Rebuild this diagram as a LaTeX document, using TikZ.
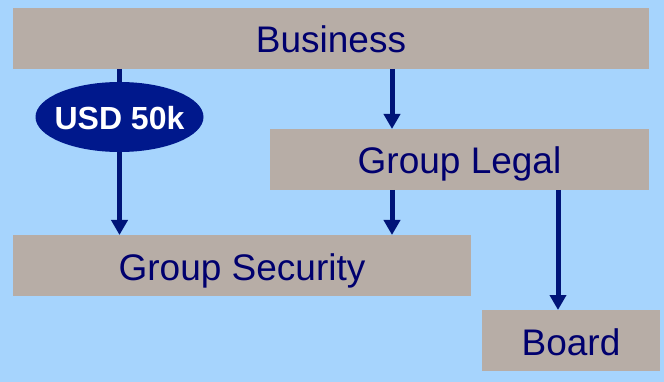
\documentclass[tikz,border=0pt]{standalone}
\usepackage{fontspec}
\setmainfont{Liberation Sans}
\usetikzlibrary{arrows.meta,shapes.geometric}
\definecolor{bgblue}{RGB}{166,212,253}
\definecolor{boxgrey}{RGB}{183,173,166}
\definecolor{txtnavy}{RGB}{0,0,110}
\definecolor{ellnavy}{RGB}{0,24,140}
\definecolor{arrnavy}{RGB}{0,20,120}
\begin{document}
\begin{tikzpicture}[x=1pt,y=-1pt,
  orgbox/.style={fill=boxgrey,draw=none,inner sep=0pt,outer sep=0pt,minimum height=61pt,text height=29pt,text depth=0pt,text=txtnavy,font=\fontsize{37}{42}\selectfont},
  amount/.style={ellipse,fill=ellnavy,draw=none,inner sep=0pt,outer sep=0pt,minimum width=168pt,minimum height=70pt,text height=26pt,text depth=0pt,text=white,font=\fontsize{32}{36}\selectfont\bfseries},
  link/.style={draw=arrnavy,line width=5pt},
  arr/.style={link,-{Triangle[width=16pt,length=15pt]}}]
\fill[bgblue] (0,0) rectangle (664,382);
\useasboundingbox (0,0) rectangle (664,382);
\node[orgbox,minimum width=636pt] (biz) at (331,38.5) {Business};
\node[orgbox,minimum width=379pt] (legal) at (459.5,159.5) {Group Legal};
\node[orgbox,minimum width=458pt] (sec) at (242,265.5) {Group Security};
\node[orgbox,minimum width=178pt] (board) at (571,340.5) {Board};
\node[amount] (usd) at (119.5,117) {\makebox[0pt][c]{USD 50k}};
\coordinate (bizL) at (119.5,69);
\coordinate (secL) at (119.5,235);
\coordinate (bizM) at (392,69);
\coordinate (legalT) at (392,129);
\coordinate (legalM) at (392,190);
\coordinate (secR) at (392,235);
\coordinate (legalR) at (558,190);
\coordinate (boardT) at (558,310);
\draw[link] (bizL) -- (usd.north);
\draw[arr] (usd.south) -- (secL);
\draw[arr] (bizM) -- (legalT);
\draw[arr] (legalM) -- (secR);
\draw[arr] (legalR) -- (boardT);
\end{tikzpicture}
\end{document}
